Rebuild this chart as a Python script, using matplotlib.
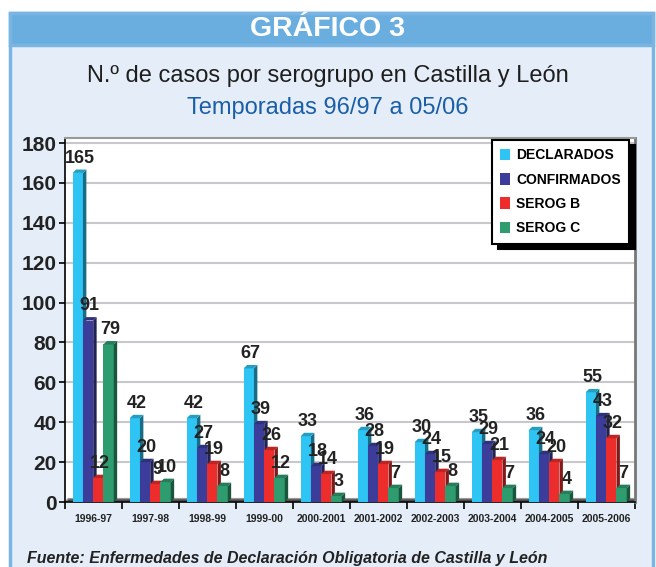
import matplotlib.pyplot as plt
import numpy as np
import matplotlib.colors as mcolors
from matplotlib.patches import Polygon, Rectangle

# datos
temporadas = ['1996-97', '1997-98', '1998-99', '1999-00', '2000-2001',
              '2001-2002', '2002-2003', '2003-2004', '2004-2005', '2005-2006']
declarados = [165, 42, 42, 67, 33, 36, 30, 35, 36, 55]
confirmados = [91, 20, 27, 39, 18, 28, 24, 29, 24, 43]
serog_b = [12, 9, 19, 26, 14, 19, 15, 21, 20, 32]
serog_c = [79, 10, 8, 12, 3, 7, 8, 7, 4, 7]
nombres = ['DECLARADOS', 'CONFIRMADOS', 'SEROG B', 'SEROG C']
colores = ['#2ec5f4', '#3c3d9a', '#ec2d2b', '#2e9c6f']
series = [declarados, confirmados, serog_b, serog_c]

narrow = ['Liberation Sans', 'DejaVu Sans']
plt.rcParams['font.family'] = ['Liberation Sans', 'DejaVu Sans']

W, H = 656, 567
fig = plt.figure(figsize=(W/100, H/100), dpi=100)
fig.patch.set_facecolor('white')

# marco y cabecera (por detras de los ejes)
fig.patches.append(Rectangle((10/W, -0.01), 643/W, 1.01 - 13/H, transform=fig.transFigure,
                             facecolor='#e5eef8', edgecolor='#7ab4e2', lw=2.5, zorder=-2))
fig.patches.append(Rectangle((10/W, 1 - 45/H), 643/W, 32/H, transform=fig.transFigure,
                             facecolor='#6aaee0', edgecolor='#7ab4e2', lw=2.5, zorder=-1))
fig.text(0.5, 1 - 29/H, 'GRÁFICO 3', ha='center', va='center', color='white',
         fontsize=20.5, fontweight='bold')
fig.text(0.5, 1 - 76/H, 'N.º de casos por serogrupo en Castilla y León', ha='center',
         va='center', color='#1e1e1e', fontsize=17)
fig.text(0.5, 1 - 108/H, 'Temporadas 96/97 a 05/06', ha='center', va='center',
         color='#1a5ea8', fontsize=17)
fig.text(27/W, 1 - 558/H, 'Fuente: Enfermedades de Declaración Obligatoria de Castilla y León',
         ha='left', va='center', color='#222222', fontsize=11.5, fontweight='bold',
         style='italic')

ax = fig.add_axes([65/W, (H - 502)/H, 570/W, 364/H])
ax.set_facecolor('white')
ymax = 180 * 364 / (502 - 143)
ax.set_xlim(-0.5, 9.5)
ax.set_ylim(0, ymax)

x = np.arange(len(temporadas))
w = 0.18
dx = 0.06
dy = 1.7

# suelo
ax.add_patch(Polygon([(-0.5, 0), (9.5, 0), (9.5 + dx, dy), (-0.5 + dx, dy)],
                     closed=True, facecolor='#4a4a4a', edgecolor='#9a9a9a', lw=1, zorder=1.5))

for i, (vals, c) in enumerate(zip(series, colores)):
    xs = x + (i - 1.5) * w - 0.005
    rgb = np.array(mcolors.to_rgb(c))
    ax.bar(xs, vals, width=w, color=c, zorder=3)
    for xc, v in zip(xs, vals):
        r = xc + w / 2
        l = xc - w / 2
        ax.add_patch(Polygon([(r, 0), (r + dx, dy), (r + dx, v + dy), (r, v)], closed=True,
                             facecolor=rgb * 0.55, edgecolor='none', zorder=3))
        ax.add_patch(Polygon([(l, v), (r, v), (r + dx, v + dy), (l + dx, v + dy)], closed=True,
                             facecolor=rgb * 0.8, edgecolor='none', zorder=3))
        ax.text(xc + 0.03, v + dy + 1.5, str(v), ha='center', va='bottom', fontsize=13,
                fontweight='bold', color='#222222', family=narrow, zorder=5)

# cuadricula
ax.set_yticks(np.arange(0, 181, 20))
ax.yaxis.grid(True, color='#c8c8cc', lw=1.5)
ax.set_axisbelow(True)
ax.tick_params(axis='y', labelsize=15, length=4, width=1.2, pad=2)
for t in ax.get_yticklabels():
    t.set_fontweight('bold')
    t.set_family(narrow)
    t.set_color('#222222')

ax.set_xticks(np.arange(-0.5, 10, 1))
ax.set_xticklabels([])
ax.tick_params(axis='x', length=5, width=1.2)
ax.set_xticks(x, minor=True)
ax.set_xticklabels(temporadas, minor=True)
ax.tick_params(axis='x', which='minor', length=0, labelsize=7.5, pad=9)
for t in ax.get_xticklabels(minor=True):
    t.set_fontweight('bold')
    t.set_family(narrow)
    t.set_color('#222222')

ax.spines['left'].set_linewidth(1.2)
ax.spines['bottom'].set_linewidth(1.2)
ax.spines['top'].set_color('#999999')
ax.spines['right'].set_color('#777777')
ax.spines['top'].set_linewidth(1.5)
ax.spines['right'].set_linewidth(2)

# leyenda
handles = [Rectangle((0, 0), 1, 1, facecolor=c) for c in colores]
leg = ax.legend(handles, nombres, loc='upper right', bbox_to_anchor=(0.99, 0.995),
                borderaxespad=0, fancybox=False, edgecolor='black', framealpha=1,
                handlelength=0.7, handleheight=0.9, handletextpad=0.45, labelspacing=0.75,
                borderpad=0.6, prop={'family': narrow, 'weight': 'bold', 'size': 10},
                shadow={'color': 'black', 'alpha': 1, 'ox': 4, 'oy': -4})
leg.get_frame().set_linewidth(1.5)
leg.set_zorder(10)

fig.savefig('out.png', dpi=100)
